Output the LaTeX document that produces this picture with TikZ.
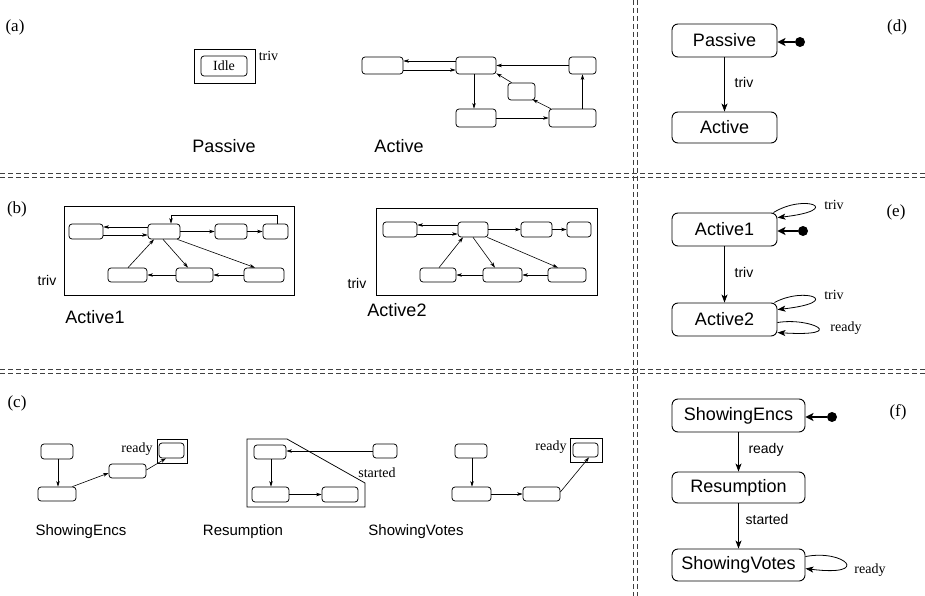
\documentclass[tikz,border=0pt]{standalone}
\usepackage{fontspec}
\setmainfont{Liberation Serif}
\setsansfont{Liberation Sans}
\usetikzlibrary{arrows.meta}
\tikzset{
 sbox/.style={draw, rounded corners=3pt, line width=0.75pt, inner sep=0pt},
 frame/.style={draw, line width=0.75pt, inner sep=0pt},
 arr/.style={-{Stealth[length=5.5pt,width=3.5pt,inset=1.5pt]}, line width=0.6pt},
 bnode/.style={draw, rounded corners=6pt, line width=0.9pt, inner sep=0pt, font=\sffamily\fontsize{18}{21}\selectfont},
 barr/.style={-{Stealth[length=8pt,width=6pt,inset=2pt]}, line width=0.8pt},
 initarr/.style={-{Stealth[length=8pt,width=8pt,inset=2pt]}, line width=2pt},
 dot/.style={circle, fill, inner sep=0pt, minimum size=10pt},
 biglab/.style={font=\sffamily\fontsize{18}{21}\selectfont, inner sep=0pt},
 clab/.style={font=\sffamily\fontsize{15}{18}\selectfont, inner sep=0pt},
 serlab/.style={font=\fontsize{14}{16}\selectfont, inner sep=0pt},
 sanslab/.style={font=\sffamily\fontsize{14}{16}\selectfont, inner sep=0pt},
 panel/.style={font=\fontsize{17}{20}\selectfont, inner sep=0pt},
 divider/.style={dash pattern=on 5pt off 3pt, line width=0.6pt, black!75},
}
\newcommand{\bx}[6][sbox]{\node[#1,minimum width={(#5)-(#3)},minimum height={(#6)-(#4)}] (#2) at ({((#3)+(#5))/2},{((#4)+(#6))/2}) {};}
\begin{document}
\begin{tikzpicture}[x=1pt,y=-1pt]
\useasboundingbox (0,0) rectangle (925,596);
% dividers
\draw[divider] (0,173) -- (925,173);
\draw[divider] (0,177) -- (925,177);
\draw[divider] (0,369) -- (925,369);
\draw[divider] (0,373) -- (925,373);
\draw[divider] (633,0) -- (633,596);
\draw[divider] (637,0) -- (637,596);
% panel labels
\node[panel] (la) at (15,27) {(a)};
\node[panel] (lb) at (17,209) {(b)};
\node[panel] (lc) at (17,403) {(c)};
\node[panel] (ld) at (897,27) {(d)};
\node[panel] (le) at (896,212) {(e)};
\node[panel] (lf) at (898,412) {(f)};
% (a) Passive
\bx[frame]{idleout}{194}{49}{255}{83}
\node[sbox, minimum width=46pt, minimum height=20pt, font=\fontsize{14}{16}\selectfont] (idle) at (224,66) {Idle};
\node[serlab] (trivA) at (268.5,56) {triv};
\node[biglab] (passiveLab) at (224,146) {Passive};
% (a) Active
\bx{a1}{362}{57}{403}{74}
\bx{a2}{456}{57}{496}{74}
\bx{a3}{569}{57}{596}{74}
\bx{a4}{508}{83}{535}{100}
\bx{a5}{456}{109}{496}{127}
\bx{a6}{549}{109}{596}{127}
\draw[arr] ([yshift=4.5pt]a2.west) -- ([yshift=4.5pt]a1.east);
\draw[arr] ([yshift=-4.5pt]a1.east) -- ([yshift=-4.5pt]a2.west);
\draw[arr] ([xshift=-2pt]a2.south) -- ([xshift=-2pt]a5.north);
\draw[arr] (a5.east) -- (a6.west);
\draw[arr] ([xshift=2pt]a6.north west) -- ([xshift=-3pt,yshift=1pt]a4.south east);
\draw[arr] ([xshift=4pt]a4.north west) -- ([yshift=1pt]a2.south east);
\draw[arr] (a3.west) -- (a2.east);
\draw[arr] (a3.south |- a6.north) -- (a3.south);
\node[biglab] (activeLab) at (399,146) {Active};
% (b) Active1
\bx[frame]{box1}{64}{206}{294}{295}
\bx{b1}{69}{224}{103}{239}
\bx{b2}{148}{224}{180}{239}
\bx{b3}{215}{224}{247}{239}
\bx{b4}{263}{224}{288}{239}
\bx{b5}{108}{268}{147}{282}
\bx{b6}{176}{268}{213}{282}
\bx{b7}{244}{268}{284}{282}
\draw[arr] ([yshift=4.5pt]b2.west) -- ([yshift=4.5pt]b1.east);
\draw[arr] ([yshift=-3.5pt]b1.east) -- ([yshift=-3.5pt]b2.west);
\draw[arr] (b2.east) -- (b3.west);
\draw[arr] (b3.east) -- (b4.west);
\draw[arr] ([xshift=1.5pt]b4.north) -- ++(0,-8) -| ([xshift=7pt]b2.north);
\draw[arr] ([xshift=-1pt]b2.south) -- ([xshift=-6.5pt]b6.north);
\draw[arr] ([xshift=-3pt]b2.south east) -- ([xshift=-9pt]b7.north);
\draw[arr] (b7.west) -- (b6.east);
\draw[arr] (b6.west) -- (b5.east);
\draw[arr] ([xshift=0.5pt]b5.north) -- ([xshift=-10pt]b2.south);
\node[sanslab] (trivB1) at (47,280) {triv};
\node[biglab] (active1Lab) at (95,317) {Active1};
% (b) Active2
\bx[frame]{box2}{376}{208}{597}{295}
\bx{c1}{383}{222}{417}{237}
\bx{c2}{458}{222}{488}{237}
\bx{c3}{521}{222}{552}{237}
\bx{c4}{567}{222}{591}{237}
\bx{c5}{420}{268}{456}{282}
\bx{c6}{483}{268}{522}{282}
\bx{c7}{548}{268}{586}{282}
\draw[arr] ([yshift=4.5pt]c2.west) -- ([yshift=4.5pt]c1.east);
\draw[arr] ([yshift=-4.5pt]c1.east) -- ([yshift=-4.5pt]c2.west);
\draw[arr] (c2.east) -- (c3.west);
\draw[arr] (c3.east) -- (c4.west);
\draw[arr] (c2.south) -- ([xshift=-7.5pt]c6.north);
\draw[arr] ([xshift=-1pt]c2.south east) -- ([xshift=-9pt]c7.north);
\draw[arr] (c7.west) -- (c6.east);
\draw[arr] (c6.west) -- (c5.east);
\draw[arr] ([xshift=1pt]c5.north) -- ([xshift=-10pt]c2.south);
\node[sanslab] (trivB2) at (357,283) {triv};
\node[biglab] (active2Lab) at (397,310) {Active2};
% (c) ShowingEncs
\bx{d1}{41}{444}{73}{459}
\bx{d2}{38}{487}{76}{501}
\bx{d3}{109}{464}{146}{478}
\bx[frame]{d4out}{157}{439}{187}{463}
\bx{d4}{159}{443}{184}{458}
\draw[arr] ([xshift=1pt]d1.south) -- ([xshift=1pt]d2.north);
\draw[arr] ([xshift=-4pt]d2.north east) -- ([yshift=-2pt]d3.west);
\draw[arr] ([yshift=1pt]d3.east) -- ([xshift=-5.5pt]d4.south);
\node[serlab] (readyC1) at (137,449) {ready};
\node[clab] (encsLab) at (81,532) {ShowingEncs};
% (c) Resumption
\draw[line width=0.75pt] (247,439) -- (287,439) -- (365,483) -- (365,507) -- (247,507) -- cycle;
\bx{e1}{254}{445}{286}{459}
\bx{e2}{252}{487}{289}{502}
\bx{e3}{322}{487}{358}{502}
\bx{e4}{373}{444}{397}{458}
\draw[arr] (e4.west) -- (e4.west -| e1.east);
\draw[arr] ([xshift=1pt]e1.south) -- ([xshift=1pt]e1.south |- e2.north);
\draw[arr] (e2.east) -- (e3.west);
\node[serlab] (startedC) at (377,473) {started};
\node[clab] (resLab) at (243,532) {Resumption};
% (c) ShowingVotes
\bx{f1}{455}{444}{487}{458}
\bx{f2}{452}{487}{491}{501}
\bx{f3}{523}{487}{560}{501}
\bx[frame]{f4out}{570}{438}{602}{462}
\bx{f4}{573}{443}{598}{457}
\draw[arr] ([xshift=1pt]f1.south) -- ([xshift=1pt]f1.south |- f2.north);
\draw[arr] (f2.east) -- (f3.west);
\draw[arr] ([yshift=2pt]f3.east) -- ([xshift=3.5pt]f4.south);
\node[serlab] (readyC2) at (551,447) {ready};
\node[clab] (votesLab) at (416,532) {ShowingVotes};
% (d)
\node[bnode, minimum width=105pt, minimum height=33pt] (passive) at (724.5,40.5) {Passive};
\node[bnode, minimum width=105pt, minimum height=31pt] (active) at (724.5,127.5) {Active};
\draw[barr] (passive.south) -- (active.north);
\node[sanslab] (trivD) at (744,82) {triv};
\node[dot] (initD) at (800,42) {};
\draw[initarr] (initD) -- (initD -| passive.east);
% (e)
\node[bnode, minimum width=105pt, minimum height=33pt] (act1) at (724.5,229.5) {Active1};
\node[bnode, minimum width=105pt, minimum height=33pt] (act2) at (724.5,319.5) {Active2};
\draw[barr] (act1.south) -- (act2.north);
\node[sanslab] (trivE) at (744,272) {triv};
\node[dot] (initE) at (803,231) {};
\draw[initarr] (initE) -- (initE -| act1.east);
\draw[barr] ([xshift=-4pt]act1.north east) .. controls (805,193) and (845,210) .. ([yshift=-5pt]act1.north east);
\node[serlab] (trivE1) at (834,205) {triv};
\draw[barr] ([xshift=-3pt]act2.north east) .. controls (805,286) and (845,302) .. ([yshift=-7pt]act2.north east);
\node[serlab] (trivE2) at (834,295) {triv};
\draw[barr] ([yshift=-20pt]act2.north east) .. controls (810,317) and (850,337) .. ([yshift=-30pt]act2.north east);
\node[serlab] (readyE) at (846,328) {ready};
% (f)
\node[bnode, minimum width=133pt, minimum height=33pt] (se) at (738.5,415.5) {ShowingEncs};
\node[bnode, minimum width=133pt, minimum height=31pt] (res) at (738.5,487.5) {Resumption};
\node[bnode, minimum width=133pt, minimum height=32pt] (sv) at (738.5,565) {ShowingVotes};
\draw[barr] (se.south) -- (res.north);
\draw[barr] (res.south) -- (sv.north);
\node[sanslab] (readyF) at (766,450) {ready};
\node[sanslab] (startedF) at (767,519) {started};
\node[dot] (initF) at (832,417) {};
\draw[initarr] (initF) -- (initF -| se.east);
\draw[barr] ([yshift=-8pt]sv.north east) .. controls (845,549) and (872,577) .. ([yshift=-20pt]sv.north east);
\node[serlab] (readyF2) at (870,570) {ready};
\end{tikzpicture}
\end{document}
